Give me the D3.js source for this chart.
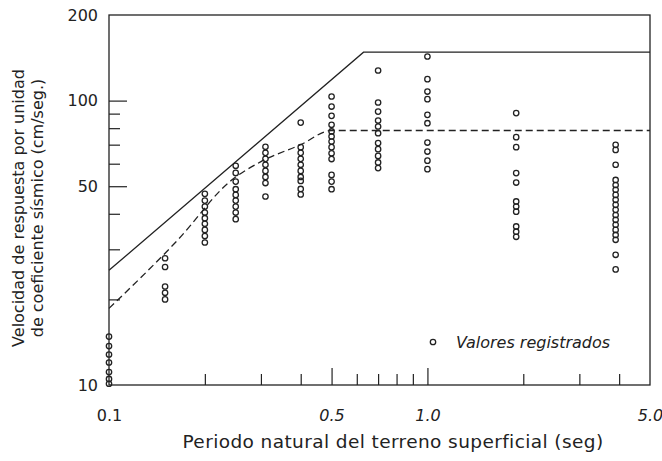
<!DOCTYPE html>
<html>
<head>
<meta charset="utf-8">
<script src="https://cdn.jsdelivr.net/npm/d3@7"></script>
<style>
body { margin: 0; background: #fff; }
text { font-family: "DejaVu Sans", sans-serif; fill: #222; }
</style>
</head>
<body>
<svg id="chart"></svg>
<script>
// period of each column of recorded values (seg)
var periods = [0.1, 0.15, 0.2, 0.25, 0.31, 0.4, 0.5, 0.7, 1.0, 1.9, 3.9];
// recorded response velocities (cm/seg.), one list per period
var recorded = [
  [14.8, 13.7, 12.8, 12.0, 11.1, 10.5, 10.1],
  [27.9, 26.0, 22.2, 21.1, 20.0],
  [47.0, 44.5, 42.4, 40.4, 38.6, 36.9, 35.1, 33.4, 31.7],
  [59.0, 55.7, 51.9, 48.8, 46.6, 44.5, 42.4, 40.4, 38.3],
  [68.8, 65.5, 62.4, 59.5, 56.6, 53.9, 51.3, 46.0],
  [83.7, 68.6, 65.5, 62.4, 59.5, 56.6, 53.9, 52.2, 48.9, 46.8],
  [103.4, 95.3, 88.4, 82.2, 77.9, 74.8, 71.8, 68.6, 65.3, 62.3, 54.8, 51.9, 48.8],
  [127.6, 98.5, 91.5, 85.1, 81.1, 76.8, 70.9, 67.5, 63.9, 60.6, 57.9],
  [142.9, 119.0, 107.6, 101.2, 89.1, 83.3, 71.2, 66.2, 61.5, 57.4],
  [90.4, 74.4, 68.6, 55.6, 51.5, 44.2, 42.4, 40.7, 36.1, 34.6, 33.2],
  [69.9, 67.1, 59.5, 52.6, 50.5, 48.6, 46.6, 44.8, 43.0, 41.3, 39.6, 38.1, 36.6, 35.1, 33.7, 32.4, 28.7, 25.5]
];
// solid envelope line
var upperT = [0.1, 0.63, 5];
var upperV = [25.3, 148, 148];
// dashed mean line
var lowerT = [0.1, 0.165, 0.24, 0.3, 0.4, 0.5, 5];
var lowerV = [18.6, 32.5, 52, 61, 70, 78.5, 78.5];

var xMinorTicks = [0.2, 0.3, 0.4, 0.6, 0.7, 0.8, 0.9, 2, 3, 4];
var xMajorTicks = [0.5, 1];
var xLabels = [0.1, 0.5, 1, 5];
var yMinorTicks = [20, 30, 40, 60, 70, 80, 90];
var yMajorTicks = [50, 100];
var yLabels = [10, 50, 100, 200];

var W = 662, H = 461;
var svg = d3.select("#chart").attr("width", W).attr("height", H);

var x = d3.scaleLog().domain([0.1, 5]).range([109, 650]);
var y = d3.scaleLog().domain([10, 200]).range([385, 15]);

var ink = "#222";

// frame
svg.append("rect")
  .attr("x", x(0.1)).attr("y", y(200))
  .attr("width", x(5) - x(0.1)).attr("height", y(10) - y(200))
  .attr("fill", "none").attr("stroke", ink).attr("stroke-width", 1.3);

function tickAxis(axis, size, vals) {
  return axis.tickValues(vals).tickSize(-size).tickFormat("");
}

var bottom = y(10), left = x(0.1);

// inward ticks, short minor and long major
[[xMinorTicks, 11], [xMajorTicks, 17]].forEach(function(t) {
  svg.append("g").attr("transform", "translate(0," + bottom + ")")
    .call(tickAxis(d3.axisBottom(x), t[1], t[0]))
    .call(function(g) {
      g.select(".domain").remove();
      g.selectAll("line").attr("stroke", ink).attr("stroke-width", 1.2);
    });
});
[[yMinorTicks, 11], [yMajorTicks, 18]].forEach(function(t) {
  svg.append("g").attr("transform", "translate(" + left + ",0)")
    .call(tickAxis(d3.axisLeft(y), t[1], t[0]))
    .call(function(g) {
      g.select(".domain").remove();
      g.selectAll("line").attr("stroke", ink).attr("stroke-width", 1.2);
    });
});

// tick labels
svg.append("g").attr("transform", "translate(0," + bottom + ")")
  .call(d3.axisBottom(x).tickValues(xLabels).tickSize(0).tickFormat(d3.format(".1f")))
  .call(function(g) {
    g.select(".domain").remove();
    g.selectAll("text")
      .attr("y", 36).attr("dy", null)
      .attr("font-size", 16)
      .attr("fill", ink)
      .style("font-style", function(d) { return d === 0.1 ? "normal" : "italic"; })
      .style("font-family", '"DejaVu Sans", sans-serif');
  });
svg.append("g").attr("transform", "translate(" + left + ",0)")
  .call(d3.axisLeft(y).tickValues(yLabels).tickSize(0).tickPadding(11).tickFormat(d3.format("d")))
  .call(function(g) {
    g.select(".domain").remove();
    g.selectAll("text")
      .attr("font-size", 16)
      .attr("fill", ink)
      .style("font-family", '"DejaVu Sans", sans-serif');
  });

// lines
var line = d3.line()
  .x(function(d) { return x(d[0]); })
  .y(function(d) { return y(d[1]); });

svg.append("path")
  .attr("d", line(d3.zip(upperT, upperV)))
  .attr("fill", "none").attr("stroke", ink).attr("stroke-width", 1.3);

svg.append("path")
  .attr("d", line.curve(d3.curveMonotoneX)(d3.zip(lowerT, lowerV)))
  .attr("fill", "none").attr("stroke", ink).attr("stroke-width", 1.3)
  .attr("stroke-dasharray", "7,4");

// recorded values
var pts = [];
periods.forEach(function(p, i) {
  recorded[i].forEach(function(v) { pts.push([p, v]); });
});
svg.append("g").selectAll("circle")
  .data(pts)
  .enter().append("circle")
  .attr("cx", function(d) { return x(d[0]); })
  .attr("cy", function(d) { return y(d[1]); })
  .attr("r", 2.7)
  .attr("fill", "none").attr("stroke", ink).attr("stroke-width", 1.3);

// legend
svg.append("circle")
  .attr("cx", 433).attr("cy", 342).attr("r", 2.7)
  .attr("fill", "none").attr("stroke", ink).attr("stroke-width", 1.3);
svg.append("text")
  .attr("x", 456).attr("y", 347.5)
  .attr("font-size", 16)
  .style("font-style", "italic")
  .text("Valores registrados");

// axis titles
svg.append("text")
  .attr("x", 393).attr("y", 448)
  .attr("text-anchor", "middle")
  .attr("font-size", 18.5)
  .style("letter-spacing", "0.4px")
  .text("Periodo natural del terreno superficial (seg)");

var ty = svg.append("text")
  .attr("transform", "translate(0,208) rotate(-90)")
  .attr("text-anchor", "middle")
  .attr("font-size", 16);
ty.append("tspan").attr("x", 0).attr("y", 24).text("Velocidad de respuesta por unidad");
ty.append("tspan").attr("x", 0).attr("y", 43).text("de coeficiente sísmico (cm/seg.)");
</script>
</body>
</html>
